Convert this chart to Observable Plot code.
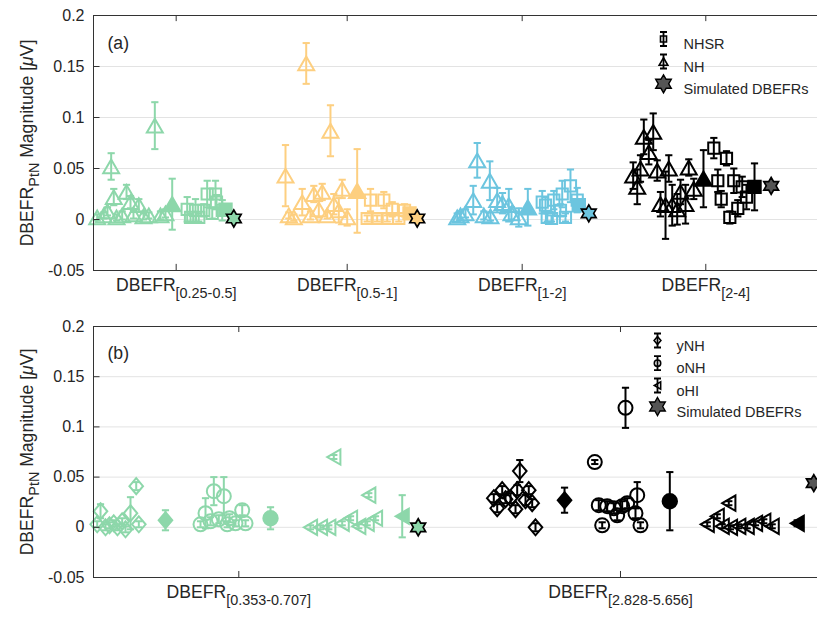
<!DOCTYPE html>
<html><head><meta charset="utf-8">
<script src="https://cdn.jsdelivr.net/npm/d3@7"></script>
<script src="https://cdn.jsdelivr.net/npm/@observablehq/plot@0.6"></script>
<style>
body{margin:0;background:#fff;}
#chart svg{display:block;}
</style></head><body><div id="chart"></div>
<script>
// ---------- DATA (x position along the axis, value, error half-width) ----------
const yTicks = [-0.05, 0, 0.05, 0.1, 0.15, 0.2];
const gridY = [0, 0.05, 0.1, 0.15];
const xTicksA = [11.42, 35.04, 59.21, 84.57];
const xSubsA = ["[0.25-0.5]", "[0.5-1]", "[1-2]", "[2-4]"];
const xTicksB = [20.07, 72.79];
const xSubsB = ["[0.353-0.707]", "[2.828-5.656]"];
const legendA = ["NHSR", "NH", "Simulated DBEFRs"];
const legendB = ["yNH", "oNH", "oHI", "Simulated DBEFRs"];

// Panel (a) — band [0.25-0.5]
const a1_NH = [[2.44,0.052,0.013],[8.47,0.092,0.023],[2.80,0.022,0.008],[4.56,0.027,0.007],[5.11,0.017,0.006],[6.26,0.014,0.006],[1.42,0.004,0.003],[0.51,0.002,0.003],[3.96,0.004,0.004],[3.18,0.002,0.003],[7.64,0.004,0.003],[6.91,0.003,0.003],[9.25,0.004,0.004],[9.94,0.006,0.004],[1.93,0.008,0.004],[5.52,0.005,0.004]];
const a1_NH_mean = [[10.87,0.015,0.025]];
const a1_NHSR = [[12.94,0.010,0.012],[14.09,0.009,0.011],[15.70,0.025,0.013],[16.85,0.025,0.013],[13.40,0.002,0.004],[14.54,0.002,0.004],[15.23,0.009,0.006],[16.40,0.006,0.005],[17.78,0.009,0.010],[16.99,0.017,0.007]];
const a1_NHSR_mean = [[18.23,0.0095,0.004]];
const a1_sim = [[19.38,0.001]];
// band [0.5-1]
const a2_NH = [[26.52,0.043,0.030],[29.38,0.153,0.020],[32.73,0.087,0.025],[28.83,0.017,0.013],[30.43,0.025,0.008],[31.59,0.027,0.008],[34.35,0.030,0.009],[33.19,0.015,0.010],[26.98,0.004,0.003],[27.67,0.002,0.003],[29.97,0.004,0.004],[31.12,0.010,0.008],[32.28,0.004,0.003],[33.88,0.009,0.012],[35.04,0.002,0.008]];
const a2_NH_mean = [[36.42,0.028,0.041]];
const a2_NHSR = [[38.26,0.019,0.011],[40.10,0.019,0.008],[37.80,0.001,0.003],[39.18,0.001,0.003],[40.57,0.001,0.003],[41.26,0.010,0.007],[42.17,0.001,0.003],[42.96,0.009,0.006]];
const a2_NHSR_mean = [[43.65,0.006,0.004]];
const a2_sim = [[44.71,0.001]];
// band [1-2]
const a3_NH = [[53.00,0.058,0.017],[54.74,0.038,0.019],[52.45,0.019,0.014],[55.76,0.019,0.012],[57.36,0.014,0.016],[56.49,0.016,0.010],[50.24,0.002,0.004],[51.38,0.006,0.004],[53.91,0.004,0.004],[54.83,0.003,0.004],[58.74,0.002,0.009],[57.73,0.006,0.006],[50.69,0.004,0.004]];
const a3_NH_mean = [[59.99,0.012,0.018]];
const a3_NHSR = [[61.98,0.017,0.011],[62.43,0.014,0.008],[63.58,0.019,0.009],[64.74,0.025,0.013],[65.88,0.033,0.016],[64.50,0.009,0.006],[65.19,0.002,0.004],[62.67,0.002,0.004],[63.26,0.001,0.003],[66.81,0.019,0.012]];
const a3_NHSR_mean = [[67.03,0.014,0.005]];
const a3_sim = [[68.41,0.006]];
// band [2-4]
const a4_NH = [[76.01,0.081,0.017],[77.31,0.086,0.018],[76.70,0.066,0.012],[74.54,0.043,0.013],[75.55,0.050,0.013],[75.10,0.032,0.017],[77.86,0.048,0.010],[79.46,0.050,0.013],[78.31,0.015,0.012],[79.01,0.014,0.033],[79.93,0.014,0.020],[81.08,0.027,0.012],[81.77,0.015,0.019],[82.22,0.051,0.008],[82.91,0.030,0.010],[80.62,0.010,0.015]];
const a4_NH_mean = [[84.25,0.040,0.028]];
const a4_NHSR = [[85.68,0.070,0.010],[87.43,0.060,0.007],[86.23,0.038,0.011],[86.70,0.020,0.008],[88.44,0.038,0.012],[89.60,0.032,0.010],[90.19,0.022,0.012],[88.99,0.011,0.008],[87.89,0.002,0.006]];
const a4_NHSR_mean = [[91.30,0.032,0.023]];
const a4_sim = [[93.60,0.033]];

// Panel (b) — band [0.353-0.707]
const b1_yNH = [[0.97,0.016,0.007],[5.90,0.041,0.004],[5.11,0.014,0.016],[0.51,0.003,0.003],[1.66,0.000,0.003],[2.80,0.004,0.003],[3.96,0.006,0.003],[4.42,-0.002,0.003],[6.26,0.003,0.003],[3.31,0.000,0.003],[2.21,0.002,0.003]];
const b1_yNH_mean = [[9.94,0.007,0.010]];
const b1_oNH = [[16.62,0.036,0.014],[18.00,0.031,0.019],[15.47,0.014,0.015],[20.54,0.017,0.005],[14.78,0.003,0.003],[16.16,0.006,0.004],[17.31,0.008,0.004],[18.47,0.003,0.003],[19.61,0.004,0.003],[21.00,0.004,0.003],[18.78,0.009,0.004]];
const b1_oNH_mean = [[24.45,0.009,0.011]];
const b1_oHI = [[33.19,0.070,0.002],[38.02,0.032,0.002],[29.97,0.000,0.002],[31.35,0.000,0.002],[32.50,0.000,0.002],[34.35,0.004,0.002],[35.50,0.009,0.002],[36.64,0.001,0.002],[37.80,0.004,0.002],[38.95,0.009,0.002]];
const b1_oHI_mean = [[42.64,0.011,0.021]];
const b1_sim = [[44.85,0.000]];
// band [2.828-5.656]
const b2_yNH = [[58.88,0.056,0.011],[55.29,0.029,0.004],[56.45,0.037,0.004],[55.76,0.019,0.004],[57.60,0.029,0.005],[58.52,0.037,0.005],[58.29,0.018,0.004],[59.67,0.027,0.005],[60.12,0.037,0.004],[60.59,0.024,0.004],[61.05,0.000,0.004],[56.91,0.028,0.004]];
const b2_yNH_mean = [[65.06,0.027,0.0125]];
const b2_oNH = [[73.48,0.119,0.020],[69.24,0.065,0.002],[69.79,0.022,0.005],[70.95,0.021,0.005],[71.87,0.019,0.005],[73.02,0.021,0.005],[73.71,0.024,0.005],[75.10,0.032,0.013],[74.86,0.014,0.005],[75.55,0.002,0.003],[70.26,0.002,0.003],[72.33,0.012,0.005]];
const b2_oNH_mean = [[79.60,0.026,0.029]];
const b2_oHI = [[87.75,0.024,0.002],[84.77,0.003,0.002],[86.15,0.011,0.002],[86.84,0.001,0.002],[87.98,0.000,0.002],[89.13,0.001,0.002],[90.29,0.001,0.002],[91.44,0.004,0.002],[92.58,0.006,0.002],[93.74,0.001,0.002]];
const b2_oHI_mean = [[97.20,0.004,0.003]];
const b2_sim = [[99.49,0.044]];

// ---------- STYLE ----------
const green = "#8dd7aa", orange = "#fdcf80", blue = "#6cc5df", black = "#000000", simGray = "#555555";
const axisColor = "#333333", textColor = "#262626", gridColor = "#e3e3e3";
const FONT = "'Liberation Sans', Arial, Helvetica, sans-serif";

// ---------- SYMBOLS ----------
const S3 = Math.sqrt(3);
const rad = s => Math.sqrt(s / Math.PI);
const triUp = {draw(c, s) { const R = rad(s); c.moveTo(0, -0.75*R); c.lineTo(0.866*R, 0.75*R); c.lineTo(-0.866*R, 0.75*R); c.closePath(); }};
const triLeft = {draw(c, s) { const R = rad(s); c.moveTo(-0.75*R, 0); c.lineTo(0.75*R, -0.866*R); c.lineTo(0.75*R, 0.866*R); c.closePath(); }};
const square = {draw(c, s) { const R = rad(s); c.moveTo(-R, -R); c.lineTo(R, -R); c.lineTo(R, R); c.lineTo(-R, R); c.closePath(); }};
const diamond = {draw(c, s) { const R = rad(s); c.moveTo(0, -R); c.lineTo(0.85*R, 0); c.lineTo(0, R); c.lineTo(-0.85*R, 0); c.closePath(); }};
const hexagram = {draw(c, s) { const R = rad(s), r = R / S3;
  for (let i = 0; i < 12; i++) { const a = -Math.PI/2 + i*Math.PI/6, q = i % 2 ? r : R;
    const px = q*Math.cos(a), py = q*Math.sin(a); i ? c.lineTo(px, py) : c.moveTo(px, py); }
  c.closePath(); }};
const cap = {draw(c, s) { const R = rad(s); c.moveTo(-R, 0); c.lineTo(R, 0); }};
const legBar = {draw(c, s) { const R = rad(s); c.moveTo(0, -R); c.lineTo(0, R); c.moveTo(-3.5, -R); c.lineTo(3.5, -R); c.moveTo(-3.5, R); c.lineTo(3.5, R); }};

function series(data, symbol, r, color, filled) {
  const pts = data.map(([x, y, e]) => ({x, y, e}));
  const we = pts.filter(d => d.e > 0);
  return [
    Plot.ruleX(we, {x: "x", y1: d => d.y - d.e, y2: d => d.y + d.e, stroke: color, strokeWidth: 2}),
    Plot.dot(we, {x: "x", y: d => d.y + d.e, symbol: cap, r: 3.6, stroke: color, strokeWidth: 2}),
    Plot.dot(we, {x: "x", y: d => d.y - d.e, symbol: cap, r: 3.6, stroke: color, strokeWidth: 2}),
    Plot.dot(pts, {x: "x", y: "y", symbol, r, stroke: color, fill: filled ? color : "none", strokeWidth: 2})
  ];
}
function star(data, fill) {
  return Plot.dot(data.map(([x, y]) => ({x, y})), {x: "x", y: "y", symbol: hexagram, r: 8.5, fill, stroke: "#000", strokeWidth: 1.7});
}
function frameMarks(xTicks, letter, letterDy) {
  return [
    Plot.ruleY([-0.05, 0.2], {stroke: axisColor, strokeWidth: 1}),
    Plot.ruleX([0], {stroke: axisColor, strokeWidth: 1}),
    Plot.ruleY(yTicks, {x1: 0, x2: 0.9, stroke: axisColor}),
    Plot.ruleX(xTicks, {y1: 0.2, y2: 0.194, stroke: axisColor}),
    Plot.ruleX(xTicks, {y1: -0.05, y2: -0.044, stroke: axisColor}),
    Plot.text(yTicks, {y: d => d, frameAnchor: "left", dx: -9, textAnchor: "end", text: d => String(d), fontSize: 16, fill: textColor}),
    Plot.text(xTicks, {x: d => d, frameAnchor: "bottom", dy: 20, text: (d, i) => "XLAB" + i, fontSize: 17.6, fill: textColor}),
    Plot.text([letter], {frameAnchor: "top-left", dx: 14, dy: letterDy, textAnchor: "start", text: d => d, fontSize: 17.6, fill: textColor}),
    Plot.text(["YLAB"], {frameAnchor: "left", dx: -66, rotate: -90, textAnchor: "middle", text: d => d, fontSize: 17.6, fill: textColor})
  ];
}
function legendMarks(labels, symbols, symDx, txtDx, rows) {
  const m = [];
  labels.forEach((lab, i) => {
    const dy = rows[i], s = symbols[i];
    if (s.star) {
      m.push(Plot.dot([0], {frameAnchor: "top-left", dx: symDx, dy, symbol: hexagram, r: 9, fill: simGray, stroke: "#000", strokeWidth: 1.4}));
    } else {
      m.push(Plot.dot([0], {frameAnchor: "top-left", dx: symDx, dy, symbol: legBar, r: 7, stroke: "#000", strokeWidth: 1.8}));
      m.push(Plot.dot([0], {frameAnchor: "top-left", dx: symDx, dy, symbol: s.sym, r: s.r, stroke: "#000", fill: "none", strokeWidth: 1.6}));
    }
    m.push(Plot.text([lab], {frameAnchor: "top-left", dx: txtDx, dy, textAnchor: "start", text: d => d, fontSize: 14.5, fill: textColor}));
  });
  return m;
}

// ---------- PANEL (a) ----------
const groupsA = [
  {c: green, nh: a1_NH, nhm: a1_NH_mean, sr: a1_NHSR, srm: a1_NHSR_mean, sim: a1_sim, sf: green},
  {c: orange, nh: a2_NH, nhm: a2_NH_mean, sr: a2_NHSR, srm: a2_NHSR_mean, sim: a2_sim, sf: orange},
  {c: blue, nh: a3_NH, nhm: a3_NH_mean, sr: a3_NHSR, srm: a3_NHSR_mean, sim: a3_sim, sf: blue},
  {c: black, nh: a4_NH, nhm: a4_NH_mean, sr: a4_NHSR, srm: a4_NHSR_mean, sim: a4_sim, sf: simGray}
];
const marksA = [Plot.ruleY(gridY, {stroke: gridColor, strokeWidth: 1})];
for (const g of groupsA) {
  marksA.push(...series(g.nh, triUp, 9.2, g.c, false));
  marksA.push(...series(g.nhm, triUp, 9.5, g.c, true));
  marksA.push(...series(g.sr, square, 5.6, g.c, false));
  marksA.push(...series(g.srm, square, 6.2, g.c, true));
  marksA.push(star(g.sim, g.sf));
}
marksA.push(...frameMarks(xTicksA, "(a)", 21));
marksA.push(...legendMarks(legendA, [{sym: square, r: 3}, {sym: triUp, r: 5}, {star: true}], 570, 590, [23.5, 46, 68.3]));

// ---------- PANEL (b) ----------
const groupsB = [
  {c: green, y: b1_yNH, ym: b1_yNH_mean, o: b1_oNH, om: b1_oNH_mean, h: b1_oHI, hm: b1_oHI_mean, sim: b1_sim, sf: green},
  {c: black, y: b2_yNH, ym: b2_yNH_mean, o: b2_oNH, om: b2_oNH_mean, h: b2_oHI, hm: b2_oHI_mean, sim: b2_sim, sf: simGray}
];
const marksB = [Plot.ruleY(gridY, {stroke: gridColor, strokeWidth: 1})];
for (const g of groupsB) {
  marksB.push(...series(g.y, diamond, 8, g.c, false));
  marksB.push(...series(g.ym, diamond, 8, g.c, true));
  marksB.push(...series(g.o, "circle", 7, g.c, false));
  marksB.push(...series(g.om, "circle", 7.2, g.c, true));
  marksB.push(...series(g.h, triLeft, 8.8, g.c, false));
  marksB.push(...series(g.hm, triLeft, 8.8, g.c, true));
  marksB.push(star(g.sim, g.sf));
}
marksB.push(...frameMarks(xTicksB, "(b)", 20));
marksB.push(...legendMarks(legendB, [{sym: diamond, r: 4}, {sym: "circle", r: 3.2}, {sym: triLeft, r: 4.2}, {star: true}], 564, 583, [14, 36.7, 59, 80]));

function makePlot(marks, mt, mb) {
  return Plot.plot({
    width: 817, height: 310, marginLeft: 93, marginRight: 0, marginTop: mt, marginBottom: mb,
    x: {domain: [0, 100], axis: null},
    y: {domain: [-0.05, 0.2], axis: null},
    style: {fontFamily: FONT, color: textColor, background: "#fff"},
    marks
  });
}
function decorate(svg, subs) {
  d3.select(svg).selectAll("text").each(function() {
    const c = this.textContent, t = d3.select(this);
    if (c.startsWith("XLAB")) {
      const i = +c.slice(4);
      t.text(null);
      t.append("tspan").text("DBEFR");
      t.append("tspan").attr("dy", 7).attr("font-size", 14.4).text(subs[i]);
    } else if (c === "YLAB") {
      t.text(null);
      t.append("tspan").text("DBEFR");
      t.append("tspan").attr("dy", 6).attr("font-size", 14.4).text("PtN");
      t.append("tspan").attr("dy", -6).text(" Magnitude [");
      t.append("tspan").attr("font-style", "italic").text("\u03bc");
      t.append("tspan").text("V]");
    }
  });
  return svg;
}
const chart = document.getElementById("chart");
chart.appendChild(decorate(makePlot(marksA, 15, 40), xSubsA));
chart.appendChild(decorate(makePlot(marksB, 16, 43), xSubsB));
</script></body></html>
